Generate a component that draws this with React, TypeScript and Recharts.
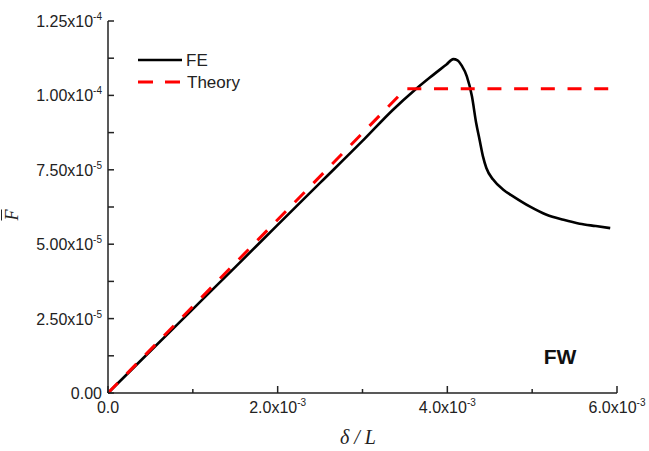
import React from "react";
import { LineChart, Line, XAxis, YAxis, Legend } from "recharts";

// FE curve: strain in units of 1e-3, normalised force in units of 1e-4
const feStrain = [
  0, 0.5, 1.0, 1.5, 2.0, 2.5, 3.0, 3.36, 3.6, 3.79, 3.99, 4.07, 4.12, 4.17, 4.23,
  4.29, 4.34, 4.38, 4.42, 4.46, 4.54, 4.66, 4.78, 4.97, 5.17, 5.37, 5.56, 5.75, 5.92,
];
const feForce = [
  0, 0.141, 0.282, 0.423, 0.565, 0.706, 0.847, 0.952, 1.014, 1.059, 1.104, 1.122, 1.118,
  1.1, 1.064, 0.997, 0.907, 0.851, 0.795, 0.756, 0.717, 0.683, 0.66, 0.627, 0.599, 0.582,
  0.569, 0.561, 0.554,
];

// Theory: linear rise then a plateau
const theoryStrain = [0, 3.51, 5.9];
const theoryForce = [0, 1.022, 1.022];

const xTicks = [0, 0.001, 0.002, 0.003, 0.004, 0.005, 0.006];
const xTickLabels = ["0.0", "", "2.0x10|-3", "", "4.0x10|-3", "", "6.0x10|-3"];
const yTicks = [
  0, 0.0000125, 0.000025, 0.0000375, 0.00005, 0.0000625, 0.000075, 0.0000875, 0.0001,
  0.0001125, 0.000125,
];
const yTickLabels = [
  "0.00", "", "2.50x10|-5", "", "5.00x10|-5", "", "7.50x10|-5", "", "1.00x10|-4", "", "1.25x10|-4",
];

const feData = feStrain.map((s, i) => ({ x: s * 1e-3, y: feForce[i] * 1e-4 }));
const theoryData = theoryStrain.map((s, i) => ({ x: s * 1e-3, y: theoryForce[i] * 1e-4 }));

const W = 649;
const H = 451;
const PLOT_LEFT = 108;
const PLOT_RIGHT = 617;
const PLOT_TOP = 21;
const PLOT_BOTTOM = 393;
const AXIS = "#222";
const SANS = '"Liberation Sans", Arial, sans-serif';
const SERIF = '"Liberation Serif", "Times New Roman", serif';

const TickText = ({ label, x, y, anchor }: { label: string; x: number; y: number; anchor: "end" | "middle" }) => {
  const [base, exp] = label.split("|");
  return (
    <text x={x} y={y} textAnchor={anchor} fontFamily={SANS} fontSize={16} fill="#222">
      <tspan>{base}</tspan>
      {exp && (
        <tspan dy={-7} fontSize={10}>
          {exp}
        </tspan>
      )}
    </text>
  );
};

const BottomTick = (props: any) => {
  const { x, index } = props;
  const label = xTickLabels[index] ?? "";
  const len = label ? 7 : 4;
  return (
    <g>
      <line x1={x} x2={x} y1={PLOT_BOTTOM} y2={PLOT_BOTTOM - len} stroke={AXIS} strokeWidth={1.5} />
      {label && <TickText label={label} x={x} y={413} anchor="middle" />}
    </g>
  );
};

const LeftTick = (props: any) => {
  const { y, index } = props;
  const label = yTickLabels[index] ?? "";
  return (
    <g>
      <line x1={PLOT_LEFT} x2={PLOT_LEFT + 6} y1={y} y2={y} stroke={AXIS} strokeWidth={1.5} />
      {label && <TickText label={label} x={102} y={y + 6} anchor="end" />}
    </g>
  );
};

const RightTick = (props: any) => {
  const { y } = props;
  return <line x1={PLOT_RIGHT} x2={PLOT_RIGHT - 7} y1={y} y2={y} stroke={AXIS} strokeWidth={1.5} />;
};

const renderLegend = () => (
  <svg width={120} height={46}>
    <line x1={8} x2={52} y1={12} y2={12} stroke="#000" strokeWidth={2.6} />
    <text x={56} y={18} fontFamily={SANS} fontSize={17} fill="#222">
      FE
    </text>
    <line x1={8} x2={50} y1={34} y2={34} stroke="#f00" strokeWidth={3} strokeDasharray="15 12" />
    <text x={57} y={40} fontFamily={SANS} fontSize={17} fill="#222">
      Theory
    </text>
  </svg>
);

export default function App() {
  return (
    <div style={{ position: "absolute", left: 0, top: 0, width: W, height: H, background: "#fff" }}>
      <LineChart
        width={W}
        height={H}
        margin={{ top: PLOT_TOP, right: W - PLOT_RIGHT, bottom: 0, left: 0 }}
      >
        <XAxis
          xAxisId="bottom"
          type="number"
          dataKey="x"
          domain={[0, 0.006]}
          ticks={xTicks}
          interval={0}
          height={H - PLOT_BOTTOM}
          tickLine={false}
          tick={<BottomTick />}
          axisLine={{ stroke: AXIS, strokeWidth: 1.5 }}
        />
        <XAxis
          xAxisId="top"
          orientation="top"
          type="number"
          domain={[0, 0.006]}
          height={0}
          tick={false}
          tickLine={false}
          axisLine={{ stroke: AXIS, strokeWidth: 1.5 }}
        />
        <YAxis
          yAxisId="left"
          type="number"
          domain={[0, 0.000125]}
          ticks={yTicks}
          interval={0}
          width={PLOT_LEFT}
          tickLine={false}
          tick={<LeftTick />}
          axisLine={{ stroke: AXIS, strokeWidth: 1.5 }}
        />
        <YAxis
          yAxisId="right"
          orientation="right"
          type="number"
          domain={[0, 0.000125]}
          ticks={yTicks}
          interval={0}
          width={0}
          tickLine={false}
          tick={<RightTick />}
          axisLine={{ stroke: AXIS, strokeWidth: 1.5 }}
        />
        {/* middle/center alignment keeps the legend from reserving plot space */}
        <Legend
          layout="horizontal"
          verticalAlign="middle"
          align="center"
          content={renderLegend}
          wrapperStyle={{ position: "absolute", left: 130, top: 48, width: 120, height: 46 }}
        />
        <Line
          xAxisId="bottom"
          yAxisId="left"
          data={feData}
          dataKey="y"
          name="FE"
          type="monotone"
          stroke="#000"
          strokeWidth={2.6}
          dot={false}
          isAnimationActive={false}
        />
        <Line
          xAxisId="bottom"
          yAxisId="left"
          data={theoryData}
          dataKey="y"
          name="Theory"
          type="linear"
          stroke="#f00"
          strokeWidth={3}
          strokeDasharray="14 12.7"
          dot={false}
          isAnimationActive={false}
        />
      </LineChart>
      <div
        style={{
          position: "absolute",
          left: 12,
          top: 215,
          transform: "translate(-50%, -50%) rotate(-90deg)",
          fontFamily: SERIF,
          fontStyle: "italic",
          fontSize: 18,
          textDecoration: "overline",
          color: "#222",
          lineHeight: 1,
        }}
      >
        F
      </div>
      <div
        style={{
          position: "absolute",
          left: 358,
          top: 437,
          transform: "translate(-50%, -50%)",
          fontFamily: SERIF,
          fontStyle: "italic",
          fontSize: 20,
          color: "#222",
          whiteSpace: "nowrap",
          lineHeight: 1,
        }}
      >
        δ / L
      </div>
      <div
        style={{
          position: "absolute",
          left: 560,
          top: 356,
          transform: "translate(-50%, -50%)",
          fontFamily: SANS,
          fontWeight: "bold",
          fontSize: 21,
          color: "#111",
          lineHeight: 1,
        }}
      >
        FW
      </div>
    </div>
  );
}
